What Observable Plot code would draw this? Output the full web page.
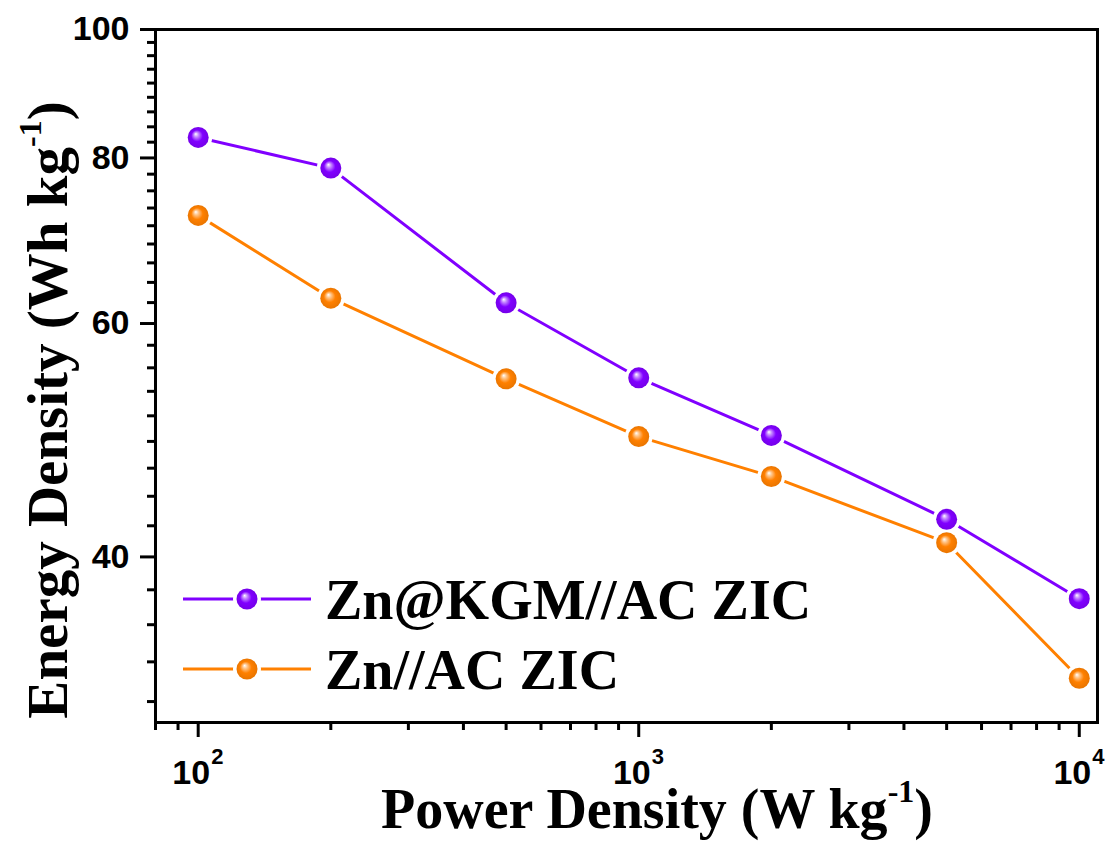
<!DOCTYPE html>
<html>
<head>
<meta charset="utf-8">
<script src="https://cdn.jsdelivr.net/npm/d3@7"></script>
<script src="https://cdn.jsdelivr.net/npm/@observablehq/plot@0.6"></script>
<style>
  body { margin: 0; background: #fff; }
  #chart svg { display: block; }
</style>
</head>
<body>
<div id="chart"></div>
<script>
// Power density (W/kg) at which each device was measured
const power = [100, 200, 500, 1000, 2000, 5000, 10000];
// Energy density (Wh/kg) for each device
const kgmEnergy = [82.9, 78.6, 62.2, 54.6, 49.4, 42.7, 37.2];
const znEnergy = [72.4, 62.7, 54.5, 49.3, 46.0, 41.0, 32.4];

const seriesNames = ["Zn@KGM//AC ZIC", "Zn//AC ZIC"];
const seriesColors = ["#8000ff", "#ff8000"];
const seriesIds = ["ballKGM", "ballZn"];

// Axis ticks
const yMajorTicks = [40, 60, 80, 100];
const xMajorTicks = [100, 1000, 10000];
const xExponents = ["2", "3", "4"];

// Minor ticks: 8 per 20-unit step on y, 1-9 multiples per decade on x
const yMinorTicks = [20, 40, 60, 80].flatMap(a => d3.range(1, 9).map(i => a + i * 20 / 9))
  .filter(v => v >= 30 && v <= 100);
const xMinorTicks = [80, 90]
  .concat(d3.range(2, 10).map(k => k * 100))
  .concat(d3.range(2, 10).map(k => k * 1000));

const rows = [
  ...power.map((p, i) => ({series: seriesNames[0], power: p, energy: kgmEnergy[i]})),
  ...power.map((p, i) => ({series: seriesNames[1], power: p, energy: znEnergy[i]}))
];

const sansBold = "Liberation Sans, Arial, Helvetica, sans-serif";
const serif = "Liberation Serif, Times New Roman, Times, serif";

const chart = Plot.plot({
  width: 1109,
  height: 843,
  marginLeft: 155,
  marginRight: 12,
  marginTop: 29,
  marginBottom: 121,
  style: {background: "#fff", overflow: "visible"},
  x: {type: "log", domain: [80, 11000]},
  y: {type: "log", domain: [30, 100]},
  color: {domain: seriesNames, range: seriesColors},
  marks: [
    Plot.axisY(yMinorTicks, {tickSize: 8, strokeWidth: 3, tickFormat: () => "", label: null}),
    Plot.axisY(yMajorTicks, {
      tickSize: 15, strokeWidth: 3, tickPadding: 11, label: null,
      tickFormat: d => String(d),
      fontSize: 34, fontWeight: "bold", fontFamily: sansBold, fill: "#000"
    }),
    Plot.axisX(xMinorTicks, {tickSize: 8, strokeWidth: 3, tickFormat: () => "", label: null}),
    Plot.axisX(xMajorTicks, {tickSize: 15, strokeWidth: 3, tickFormat: () => "", label: null}),
    // power-of-ten tick labels: base and raised exponent
    Plot.text(xMajorTicks, {
      x: d => d, frameAnchor: "bottom", text: () => "10",
      lineAnchor: "bottom", textAnchor: "end", dx: 12, dy: 61,
      fontSize: 34, fontWeight: "bold", fontFamily: sansBold, fill: "#000"
    }),
    Plot.text(xMajorTicks, {
      x: d => d, frameAnchor: "bottom", text: (d, i) => xExponents[i],
      lineAnchor: "bottom", textAnchor: "start", dx: 13, dy: 41,
      fontSize: 22, fontWeight: "bold", fontFamily: sansBold, fill: "#000"
    }),
    Plot.line(rows, {x: "power", y: "energy", z: "series", stroke: "series", strokeWidth: 3}),
    Plot.dot(rows, {x: "power", y: "energy", r: 14, fill: "#fff", stroke: null}),
    ...seriesNames.map((name, k) =>
      Plot.dot(rows.filter(d => d.series === name), {
        x: "power", y: "energy", r: 10.5, fill: `url(#${seriesIds[k]})`, stroke: null
      })
    ),
    Plot.frame({stroke: "#000", strokeWidth: 3})
  ]
});

const svg = d3.select(chart);

// Glossy ball shading for the markers
const defs = svg.insert("defs", ":first-child");
seriesColors.forEach((c, k) => {
  const g = defs.append("radialGradient")
    .attr("id", seriesIds[k])
    .attr("cx", "50%").attr("cy", "50%").attr("r", "50%")
    .attr("fx", "38%").attr("fy", "33%");
  const base = d3.color(c);
  g.append("stop").attr("offset", "0%").attr("stop-color", "#ffffff");
  g.append("stop").attr("offset", "22%").attr("stop-color", d3.interpolateRgb("#ffffff", c)(0.45));
  g.append("stop").attr("offset", "55%").attr("stop-color", c);
  g.append("stop").attr("offset", "100%").attr("stop-color", base.darker(0.25).formatHex());
});

// Axis titles with superscript units
const yTitle = svg.append("text")
  .attr("transform", "translate(67,410) rotate(-90)")
  .attr("text-anchor", "middle")
  .attr("font-family", serif)
  .attr("font-weight", "bold")
  .attr("font-size", 57)
  .attr("fill", "#000");
yTitle.append("tspan").text("Energy Density (Wh kg");
yTitle.append("tspan").attr("dy", -26).attr("font-size", 32).text("-1");
yTitle.append("tspan").attr("dy", 26).text(")");

const xTitle = svg.append("text")
  .attr("x", 657).attr("y", 828)
  .attr("text-anchor", "middle")
  .attr("font-family", serif)
  .attr("font-weight", "bold")
  .attr("font-size", 56)
  .attr("fill", "#000");
xTitle.append("tspan").text("Power Density (W kg");
xTitle.append("tspan").attr("dy", -26).attr("font-size", 32).text("-1");
xTitle.append("tspan").attr("dy", 26).text(")");

// Legend
const legendY = [599, 669];
seriesNames.forEach((name, k) => {
  const g = svg.append("g").attr("transform", `translate(0,${legendY[k]})`);
  g.append("line").attr("x1", 183).attr("x2", 311).attr("y1", 0).attr("y2", 0)
    .attr("stroke", seriesColors[k]).attr("stroke-width", 3);
  g.append("circle").attr("cx", 247).attr("cy", 0).attr("r", 14).attr("fill", "#fff");
  g.append("circle").attr("cx", 247).attr("cy", 0).attr("r", 10.5).attr("fill", `url(#${seriesIds[k]})`);
  g.append("text").attr("x", 325).attr("y", 20)
    .attr("text-anchor", "start")
    .attr("font-family", serif).attr("font-weight", "bold").attr("font-size", 56)
    .attr("fill", "#000").text(name);
});

document.getElementById("chart").appendChild(chart);
</script>
</body>
</html>
